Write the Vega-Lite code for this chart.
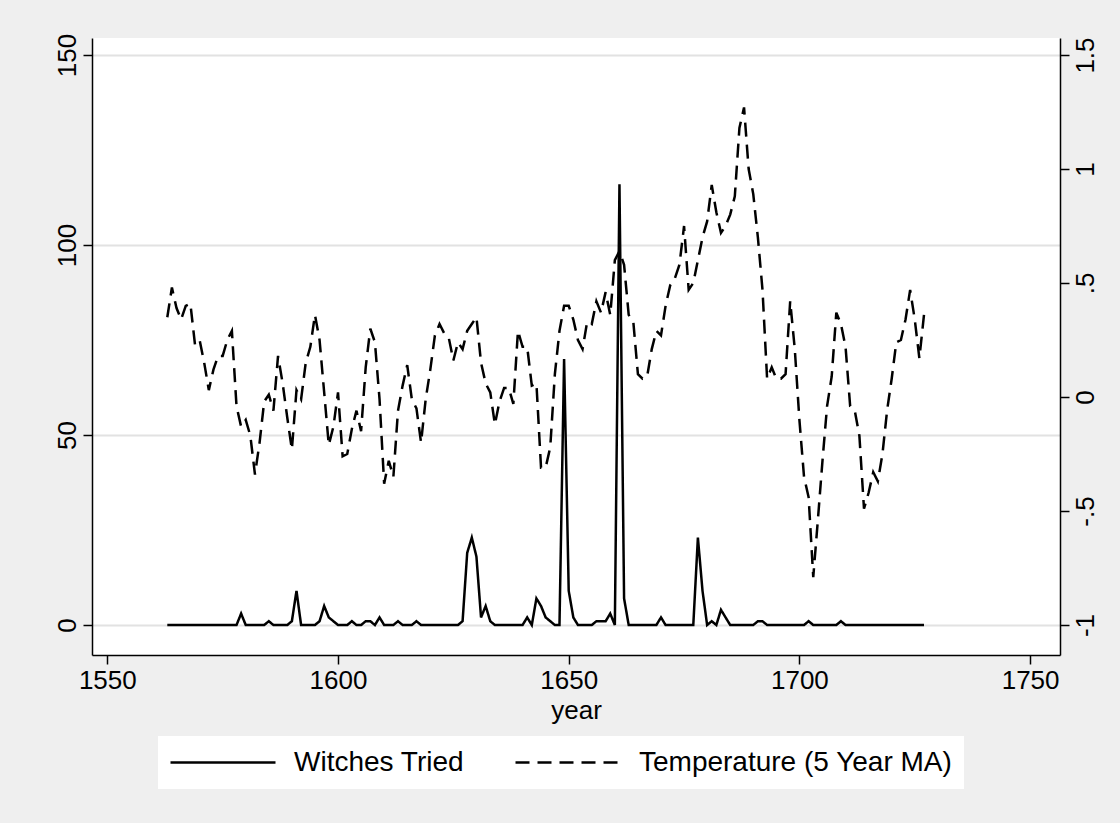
{
  "$schema": "https://vega.github.io/schema/vega-lite/v6.json",
  "width": 968,
  "height": 617,
  "autosize": {"type": "none"},
  "padding": {"left": 92, "top": 38, "right": 60, "bottom": 168},
  "background": "#efefef",
  "config": {
    "view": {"fill": "white", "stroke": null},
    "font": "Liberation Sans",
    "axis": {
      "labelFont": "Liberation Sans", "titleFont": "Liberation Sans",
      "labelFontSize": 26, "titleFontSize": 26, "titleFontWeight": "normal",
      "labelColor": "black", "titleColor": "black",
      "domainColor": "black", "tickColor": "black", "domainWidth": 1.5, "tickWidth": 1.5, "tickSize": 9
    }
  },
  "data": {"values": [
    {"year":1563,"witches":0,"temp":0.35},{"year":1564,"witches":0,"temp":0.48},{"year":1565,"witches":0,"temp":0.39},{"year":1566,"witches":0,"temp":0.34},{"year":1567,"witches":0,"temp":0.40},{"year":1568,"witches":0,"temp":0.41},{"year":1569,"witches":0,"temp":0.23},{"year":1570,"witches":0,"temp":0.25},{"year":1571,"witches":0,"temp":0.15},{"year":1572,"witches":0,"temp":0.03},{"year":1573,"witches":0,"temp":0.12},{"year":1574,"witches":0,"temp":0.18},{"year":1575,"witches":0,"temp":0.18},{"year":1576,"witches":0,"temp":0.25},{"year":1577,"witches":0,"temp":0.29},{"year":1578,"witches":0,"temp":-0.04},{"year":1579,"witches":3,"temp":-0.13},{"year":1580,"witches":0,"temp":-0.10},{"year":1581,"witches":0,"temp":-0.17},{"year":1582,"witches":0,"temp":-0.34},{"year":1583,"witches":0,"temp":-0.20},{"year":1584,"witches":0,"temp":-0.02},{"year":1585,"witches":1,"temp":0.01},{"year":1586,"witches":0,"temp":-0.06},{"year":1587,"witches":0,"temp":0.18},{"year":1588,"witches":0,"temp":0.06},{"year":1589,"witches":0,"temp":-0.09},{"year":1590,"witches":1,"temp":-0.23},{"year":1591,"witches":9,"temp":0.03},{"year":1592,"witches":0,"temp":-0.01},{"year":1593,"witches":0,"temp":0.15},{"year":1594,"witches":0,"temp":0.22},{"year":1595,"witches":0,"temp":0.36},{"year":1596,"witches":1,"temp":0.25},{"year":1597,"witches":5,"temp":0.02},{"year":1598,"witches":2,"temp":-0.21},{"year":1599,"witches":1,"temp":-0.13},{"year":1600,"witches":0,"temp":0.02},{"year":1601,"witches":0,"temp":-0.26},{"year":1602,"witches":0,"temp":-0.25},{"year":1603,"witches":1,"temp":-0.14},{"year":1604,"witches":0,"temp":-0.06},{"year":1605,"witches":0,"temp":-0.15},{"year":1606,"witches":1,"temp":0.13},{"year":1607,"witches":1,"temp":0.30},{"year":1608,"witches":0,"temp":0.24},{"year":1609,"witches":2,"temp":-0.01},{"year":1610,"witches":0,"temp":-0.38},{"year":1611,"witches":0,"temp":-0.28},{"year":1612,"witches":0,"temp":-0.35},{"year":1613,"witches":1,"temp":-0.06},{"year":1614,"witches":0,"temp":0.05},{"year":1615,"witches":0,"temp":0.14},{"year":1616,"witches":0,"temp":-0.01},{"year":1617,"witches":1,"temp":-0.05},{"year":1618,"witches":0,"temp":-0.20},{"year":1619,"witches":0,"temp":-0.01},{"year":1620,"witches":0,"temp":0.12},{"year":1621,"witches":0,"temp":0.27},{"year":1622,"witches":0,"temp":0.32},{"year":1623,"witches":0,"temp":0.28},{"year":1624,"witches":0,"temp":0.26},{"year":1625,"witches":0,"temp":0.16},{"year":1626,"witches":0,"temp":0.24},{"year":1627,"witches":1,"temp":0.21},{"year":1628,"witches":19,"temp":0.29},{"year":1629,"witches":23,"temp":0.32},{"year":1630,"witches":18,"temp":0.35},{"year":1631,"witches":2,"temp":0.15},{"year":1632,"witches":5,"temp":0.06},{"year":1633,"witches":1,"temp":0.02},{"year":1634,"witches":0,"temp":-0.12},{"year":1635,"witches":0,"temp":-0.02},{"year":1636,"witches":0,"temp":0.04},{"year":1637,"witches":0,"temp":0.04},{"year":1638,"witches":0,"temp":-0.03},{"year":1639,"witches":0,"temp":0.29},{"year":1640,"witches":0,"temp":0.22},{"year":1641,"witches":2,"temp":0.22},{"year":1642,"witches":0,"temp":0.05},{"year":1643,"witches":7,"temp":0.06},{"year":1644,"witches":5,"temp":-0.31},{"year":1645,"witches":2,"temp":-0.31},{"year":1646,"witches":1,"temp":-0.22},{"year":1647,"witches":0,"temp":0.10},{"year":1648,"witches":0,"temp":0.29},{"year":1649,"witches":70,"temp":0.40},{"year":1650,"witches":9,"temp":0.40},{"year":1651,"witches":2,"temp":0.34},{"year":1652,"witches":0,"temp":0.25},{"year":1653,"witches":0,"temp":0.21},{"year":1654,"witches":0,"temp":0.33},{"year":1655,"witches":0,"temp":0.32},{"year":1656,"witches":1,"temp":0.42},{"year":1657,"witches":1,"temp":0.37},{"year":1658,"witches":1,"temp":0.46},{"year":1659,"witches":3,"temp":0.36},{"year":1660,"witches":0,"temp":0.60},{"year":1661,"witches":116,"temp":0.64},{"year":1662,"witches":7,"temp":0.58},{"year":1663,"witches":0,"temp":0.36},{"year":1664,"witches":0,"temp":0.33},{"year":1665,"witches":0,"temp":0.10},{"year":1666,"witches":0,"temp":0.08},{"year":1667,"witches":0,"temp":0.09},{"year":1668,"witches":0,"temp":0.21},{"year":1669,"witches":0,"temp":0.29},{"year":1670,"witches":2,"temp":0.27},{"year":1671,"witches":0,"temp":0.40},{"year":1672,"witches":0,"temp":0.49},{"year":1673,"witches":0,"temp":0.52},{"year":1674,"witches":0,"temp":0.58},{"year":1675,"witches":0,"temp":0.75},{"year":1676,"witches":0,"temp":0.47},{"year":1677,"witches":0,"temp":0.50},{"year":1678,"witches":23,"temp":0.60},{"year":1679,"witches":9,"temp":0.70},{"year":1680,"witches":0,"temp":0.77},{"year":1681,"witches":1,"temp":0.93},{"year":1682,"witches":0,"temp":0.81},{"year":1683,"witches":4,"temp":0.72},{"year":1684,"witches":2,"temp":0.75},{"year":1685,"witches":0,"temp":0.80},{"year":1686,"witches":0,"temp":0.88},{"year":1687,"witches":0,"temp":1.18},{"year":1688,"witches":0,"temp":1.27},{"year":1689,"witches":0,"temp":1.00},{"year":1690,"witches":0,"temp":0.89},{"year":1691,"witches":1,"temp":0.70},{"year":1692,"witches":1,"temp":0.47},{"year":1693,"witches":0,"temp":0.08},{"year":1694,"witches":0,"temp":0.13},{"year":1695,"witches":0,"temp":0.08},{"year":1696,"witches":0,"temp":0.08},{"year":1697,"witches":0,"temp":0.10},{"year":1698,"witches":0,"temp":0.42},{"year":1699,"witches":0,"temp":0.21},{"year":1700,"witches":0,"temp":-0.10},{"year":1701,"witches":0,"temp":-0.35},{"year":1702,"witches":1,"temp":-0.44},{"year":1703,"witches":0,"temp":-0.79},{"year":1704,"witches":0,"temp":-0.54},{"year":1705,"witches":0,"temp":-0.28},{"year":1706,"witches":0,"temp":-0.04},{"year":1707,"witches":0,"temp":0.09},{"year":1708,"witches":0,"temp":0.37},{"year":1709,"witches":1,"temp":0.32},{"year":1710,"witches":0,"temp":0.22},{"year":1711,"witches":0,"temp":-0.04},{"year":1712,"witches":0,"temp":-0.06},{"year":1713,"witches":0,"temp":-0.17},{"year":1714,"witches":0,"temp":-0.49},{"year":1715,"witches":0,"temp":-0.42},{"year":1716,"witches":0,"temp":-0.33},{"year":1717,"witches":0,"temp":-0.37},{"year":1718,"witches":0,"temp":-0.25},{"year":1719,"witches":0,"temp":-0.06},{"year":1720,"witches":0,"temp":0.08},{"year":1721,"witches":0,"temp":0.24},{"year":1722,"witches":0,"temp":0.25},{"year":1723,"witches":0,"temp":0.34},{"year":1724,"witches":0,"temp":0.47},{"year":1725,"witches":0,"temp":0.34},{"year":1726,"witches":0,"temp":0.17},{"year":1727,"witches":0,"temp":0.36}
  ]},
  "encoding": {
    "x": {
      "field": "year", "type": "quantitative",
      "scale": {"domain": [1546.68, 1756.48], "nice": false, "zero": false},
      "axis": {"values": [1550, 1600, 1650, 1700, 1750], "format": "d", "grid": false, "title": "year", "labelPadding": 3, "titlePadding": 4}
    }
  },
  "layer": [
    {
      "mark": {"type": "line", "color": "black", "strokeWidth": 2.5},
      "encoding": {
        "y": {
          "field": "witches", "type": "quantitative",
          "scale": {"domain": [-7.89, 154.47], "nice": false, "zero": false},
          "axis": {"orient": "left", "values": [0, 50, 100, 150], "title": null, "grid": true, "gridColor": "#e2e2e2", "gridWidth": 2,
                   "labelAngle": 270, "labelAlign": "center", "labelBaseline": "bottom", "labelPadding": 3}
        },
        "strokeDash": {
          "datum": "Witches Tried",
          "scale": {"domain": ["Witches Tried", "Temperature (5 Year MA)"], "range": [[1, 0], [14, 8]]},
          "legend": {
            "title": null, "orient": "none", "legendX": 66, "legendY": 698, "direction": "horizontal", "columns": 2,
            "symbolType": "stroke", "symbolSize": 11025, "symbolStrokeWidth": 2.5, "symbolStrokeColor": "black",
            "clipHeight": 31,
            "labelFont": "Liberation Sans", "labelFontSize": 28, "labelColor": "black", "labelOffset": 17, "labelLimit": 0,
            "columnPadding": 49, "padding": 11, "fillColor": "white", "strokeColor": null
          }
        }
      }
    },
    {
      "mark": {"type": "line", "color": "black", "strokeWidth": 2.5},
      "encoding": {
        "y": {
          "field": "temp", "type": "quantitative",
          "scale": {"domain": [-1.1316, 1.5746], "nice": false, "zero": false},
          "axis": {"orient": "right", "values": [-1, -0.5, 0, 0.5, 1, 1.5], "title": null, "grid": false,
                   "labelExpr": "datum.value == 0.5 ? '.5' : datum.value == -0.5 ? '-.5' : datum.value == 1.5 ? '1.5' : datum.value == -1 ? '-1' : datum.value == 1 ? '1' : '0'",
                   "labelAngle": 270, "labelAlign": "center", "labelBaseline": "top", "labelPadding": 3}
        },
        "strokeDash": {"datum": "Temperature (5 Year MA)"}
      }
    }
  ],
  "resolve": {"scale": {"y": "independent"}}
}
